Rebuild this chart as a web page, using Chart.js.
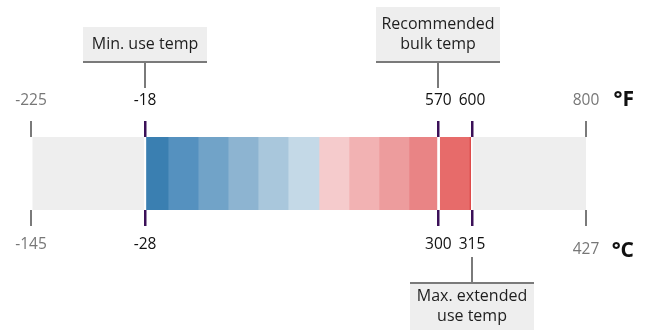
<!DOCTYPE html>
<html>
<head>
<meta charset="utf-8">
<script src="https://cdn.jsdelivr.net/npm/chart.js@4.4.1/dist/chart.umd.min.js"></script>
<style>
  html, body { margin: 0; padding: 0; background: #fff; }
  #wrap { width: 651px; height: 330px; }
</style>
</head>
<body>
<div id="wrap"><canvas id="tempChart"></canvas></div>
<script>
// positions of the marked temperatures along the bar (1 unit = one colour band)
const tickPos = [0, 3.8, 13.58, 14.7, 18.5];
const fahrenheitLabels = ['-225', '-18', '570', '600', '800'];
const celsiusLabels = ['-145', '-28', '300', '315', '427'];

// bar segments [start, end] along the same track
const bandRanges = [
  [0.06, 3.76],
  [3.85, 4.57], [4.57, 5.57], [5.57, 6.57], [6.57, 7.57], [7.57, 8.57], [8.57, 9.6],
  [9.6, 10.6], [10.6, 11.6], [11.6, 12.6], [12.6, 13.53],
  [13.63, 14.66],
  [14.73, 18.5]
];
const bandColors = [
  '#eeeeee',
  '#3a7fb1', '#5591bf', '#71a3c8', '#8db4d1', '#a9c7dc', '#c4d9e7',
  '#f5cbcc', '#f2b2b3', '#ed9c9d', '#e98485',
  '#e76b6a',
  '#eeeeee'
];

// callout boxes
const calloutText = [['Min. use temp'], ['Recommended', 'bulk temp'], ['Max. extended', 'use temp']];
const calloutTick = [1, 2, 3];
const calloutSide = ['top', 'top', 'bottom'];

const FONT = '"Open Sans", "DejaVu Sans", sans-serif';
const isEnd = i => i === 0 || i === tickPos.length - 1;

const datasets = bandRanges.map((r, i) => ({
  data: [r],
  backgroundColor: bandColors[i],
  borderColor: '#dd4b4b',
  borderWidth: i === 11 ? { left: 0, top: 0, bottom: 0, right: 1.5 } : 0,
  borderSkipped: false,
  grouped: false,
  barPercentage: 1,
  categoryPercentage: 1,
  xAxisID: 'x'
}));

function tempAxis(position, labels, height, padding) {
  return {
    type: 'linear',
    position: position,
    min: 0,
    max: 18.5,
    afterBuildTicks: s => { s.ticks = tickPos.map(v => ({ value: v })); },
    afterFit: s => { s.height = height; },
    border: { display: false },
    grid: {
      drawOnChartArea: false,
      drawTicks: true,
      tickLength: 16,
      color: c => isEnd(c.index) ? '#7a7a7a' : '#3b1058',
      lineWidth: c => isEnd(c.index) ? 2 : 2.5
    },
    ticks: {
      autoSkip: false,
      maxRotation: 0,
      padding: padding,
      callback: (v, i) => labels[i],
      color: c => isEnd(c.index) ? '#777777' : '#111111',
      font: c => ({
        family: FONT,
        size: 15.5,
        // the 427 label sits a little lower in the original
        lineHeight: (position === 'bottom' && c.index === 4) ? 1.85 : 1.2
      })
    }
  };
}

const callouts = {
  id: 'callouts',
  afterDraw(chart) {
    const { ctx, chartArea, scales } = chart;
    ctx.save();
    ctx.font = '16px ' + FONT;
    ctx.textAlign = 'center';
    ctx.textBaseline = 'middle';
    calloutText.forEach((lines, i) => {
      const x = Math.round(scales.x.getPixelForValue(tickPos[calloutTick[i]]));
      const w = 124;
      const h = 16 + lines.length * 20;
      let boxTop, lineY, stemA, stemB, textY0;
      if (calloutSide[i] === 'top') {
        const bottom = chartArea.top - 74;
        boxTop = bottom - h;
        lineY = bottom - 1;
        stemA = bottom;
        stemB = chartArea.top - 49;
        textY0 = bottom - 19 - (lines.length - 1) * 20;
      } else {
        boxTop = chartArea.bottom + 72;
        lineY = boxTop + 1;
        stemA = chartArea.bottom + 47;
        stemB = boxTop;
        textY0 = boxTop + 14;
      }
      ctx.fillStyle = '#eeeeee';
      ctx.fillRect(x - w / 2, boxTop, w, h);
      ctx.strokeStyle = '#7a7a7a';
      ctx.lineWidth = 2;
      ctx.beginPath();
      ctx.moveTo(x - w / 2, lineY);
      ctx.lineTo(x + w / 2, lineY);
      ctx.moveTo(x, stemA);
      ctx.lineTo(x, stemB);
      ctx.stroke();
      ctx.fillStyle = '#1e1e1e';
      lines.forEach((t, j) => ctx.fillText(t, x, textY0 + j * 20));
    });

    // unit labels
    ctx.font = 'bold 21px ' + FONT;
    ctx.textAlign = 'right';
    ctx.textBaseline = 'alphabetic';
    ctx.fillStyle = '#111111';
    ctx.fillText('°F', 634, chartArea.top - 31);
    ctx.fillText('°C', 634, chartArea.bottom + 47);
    ctx.restore();
  }
};

new Chart(document.getElementById('tempChart'), {
  type: 'bar',
  data: { labels: ['temp'], datasets: datasets },
  options: {
    indexAxis: 'y',
    responsive: true,
    maintainAspectRatio: false,
    animation: false,
    layout: { padding: { left: 31, right: 65, top: 0, bottom: 0 } },
    plugins: { legend: { display: false }, tooltip: { enabled: false } },
    scales: {
      y: { type: 'category', display: false, offset: true },
      x: tempAxis('top', fahrenheitLabels, 137, 11),
      x2: tempAxis('bottom', celsiusLabels, 120, 9)
    }
  },
  plugins: [callouts]
});
</script>
</body>
</html>
